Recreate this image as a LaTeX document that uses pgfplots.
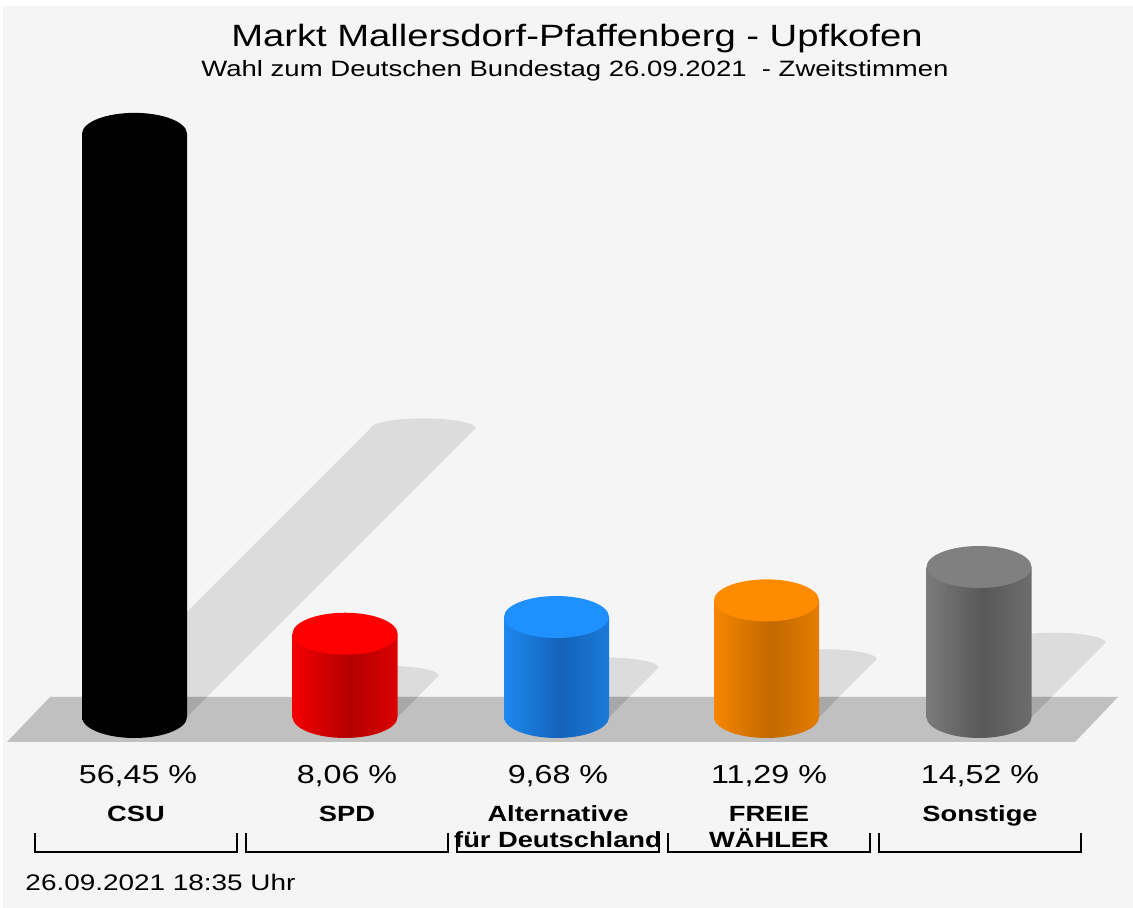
\documentclass[border=0pt]{standalone}
\usepackage{fontspec}
\setmainfont{Liberation Sans}
\usepackage{pgfplots}
\pgfplotsset{compat=1.18}

\definecolor{bgc}{HTML}{F5F5F5}
\definecolor{shadowc}{HTML}{DCDCDC}
\definecolor{floorc}{HTML}{C0C0C0}
\definecolor{floorshadowc}{HTML}{A8A8A8}
% party colours: T = top disc, L/D/R = body left, dark band, right
\definecolor{spdT}{HTML}{FF0000}\definecolor{spdL}{HTML}{F40000}\definecolor{spdD}{HTML}{B40000}\definecolor{spdR}{HTML}{DA0000}
\definecolor{afdT}{HTML}{1E90FF}\definecolor{afdL}{HTML}{1D88F0}\definecolor{afdD}{HTML}{1562B8}\definecolor{afdR}{HTML}{1A7ADA}
\definecolor{fwT}{HTML}{FF8C00}\definecolor{fwL}{HTML}{F68600}\definecolor{fwD}{HTML}{C26900}\definecolor{fwR}{HTML}{E47C00}
\definecolor{soT}{HTML}{808080}\definecolor{soL}{HTML}{7B7B7B}\definecolor{soD}{HTML}{585858}\definecolor{soR}{HTML}{6D6D6D}

% 25bp = left edge of the path, 75bp = right edge
\pgfdeclarehorizontalshading{csubody}{100bp}{color(0bp)=(black); color(100bp)=(black)}
\pgfdeclarehorizontalshading{spdbody}{100bp}{color(0bp)=(spdL); color(25bp)=(spdL); color(52bp)=(spdD); color(75bp)=(spdR); color(100bp)=(spdR)}
\pgfdeclarehorizontalshading{afdbody}{100bp}{color(0bp)=(afdL); color(25bp)=(afdL); color(52bp)=(afdD); color(75bp)=(afdR); color(100bp)=(afdR)}
\pgfdeclarehorizontalshading{fwbody}{100bp}{color(0bp)=(fwL); color(25bp)=(fwL); color(52bp)=(fwD); color(75bp)=(fwR); color(100bp)=(fwR)}
\pgfdeclarehorizontalshading{sobody}{100bp}{color(0bp)=(soL); color(25bp)=(soL); color(52bp)=(soD); color(75bp)=(soR); color(100bp)=(soR)}

\tikzset{lbl/.style={xscale=1.24, inner sep=0pt, anchor=base}}

% left x, right x, value, body shading, top colour
\newcommand{\cylinder}[5]{%
  \addplot[draw=none, shade, shading=#4] coordinates {(#2,#3)(#1,#3)(#1,0)}
      arc[start angle=180, end angle=360, x radius=26.25pt, y radius=10.5pt] -- cycle;
  \addplot[draw=none, fill=#5] coordinates {(#2,#3)}
      arc[start angle=0, end angle=360, x radius=26.25pt, y radius=10.5pt] -- cycle;
}
% shadow: base left, base right, top right end, top y
\newcommand{\shadow}[4]{%
  \addplot[fill=shadowc, draw=none] coordinates {(#1,0)(#2,0)(#3,#4)}
      arc[start angle=0, end angle=180, x radius=26.25pt, y radius=5pt] -- cycle;
}

\begin{document}
\begin{tikzpicture}
\begin{axis}[
    scale only axis, width=566.5pt, height=454pt,
    xmin=0, xmax=1133, ymin=-18.49, ymax=69.41,
    hide axis, xtick=\empty, ytick=\empty, clip=false,
]
% background
\addplot[fill=white, draw=none] coordinates {(0,-18.49)(1133,-18.49)(1133,69.41)(0,69.41)} -- cycle;
\addplot[fill=bgc, draw=none] coordinates {(3,-18.49)(1133,-18.49)(1133,68.83)(3,68.83)} -- cycle;

% shadows (sheared copies of the cylinders)
\shadow{82}{187}{475.6}{27.94}
\shadow{292.5}{397.5}{438.7}{3.99}
\shadow{504}{609}{658.5}{4.79}
\shadow{714}{819}{876.7}{5.59}
\shadow{926.5}{1031.5}{1105.7}{7.19}

% floor
\addplot[fill=floorc, draw=none] coordinates {(7,-2.42)(50,1.936)(1118,1.936)(1075,-2.42)} -- cycle;
% shadows on the floor
\addplot[fill=floorshadowc, draw=none] coordinates {(82,0)(187,0)(207,1.936)(102,1.936)} -- cycle;
\addplot[fill=floorshadowc, draw=none] coordinates {(292.5,0)(397.5,0)(417.5,1.936)(312.5,1.936)} -- cycle;
\addplot[fill=floorshadowc, draw=none] coordinates {(504,0)(609,0)(629,1.936)(524,1.936)} -- cycle;
\addplot[fill=floorshadowc, draw=none] coordinates {(714,0)(819,0)(839,1.936)(734,1.936)} -- cycle;
\addplot[fill=floorshadowc, draw=none] coordinates {(926.5,0)(1031.5,0)(1051.5,1.936)(946.5,1.936)} -- cycle;

% cylinders
\cylinder{82}{187}{56.45}{csubody}{black}
\cylinder{292.5}{397.5}{8.06}{spdbody}{spdT}
\cylinder{504}{609}{9.68}{afdbody}{afdT}
\cylinder{714}{819}{11.29}{fwbody}{fwT}
\cylinder{926.5}{1031.5}{14.52}{sobody}{soT}

% brackets
\addplot[black, line width=1pt] coordinates {(35,-11.23)(35,-13.07)(237,-13.07)(237,-11.23)};
\addplot[black, line width=1pt] coordinates {(246,-11.23)(246,-13.07)(448,-13.07)(448,-11.23)};
\addplot[black, line width=1pt] coordinates {(457,-11.23)(457,-13.07)(659,-13.07)(659,-11.23)};
\addplot[black, line width=1pt] coordinates {(668,-11.23)(668,-13.07)(870,-13.07)(870,-11.23)};
\addplot[black, line width=1pt] coordinates {(879,-11.23)(879,-13.07)(1081,-13.07)(1081,-11.23)};

% titles
\node[lbl, font=\fontsize{15.4}{18}\selectfont] at (axis cs:577,64.86) {Markt Mallersdorf-Pfaffenberg - Upfkofen};
\node[lbl, font=\fontsize{11.1}{13}\selectfont] at (axis cs:575,62.05) {Wahl zum Deutschen Bundestag 26.09.2021\ \ - Zweitstimmen};

% values
\node[lbl, font=\fontsize{13}{15}\selectfont] at (axis cs:138,-6.39) {56,45 \%};
\node[lbl, font=\fontsize{13}{15}\selectfont] at (axis cs:347,-6.39) {8,06 \%};
\node[lbl, font=\fontsize{13}{15}\selectfont] at (axis cs:558,-6.39) {9,68 \%};
\node[lbl, font=\fontsize{13}{15}\selectfont] at (axis cs:769,-6.39) {11,29 \%};
\node[lbl, font=\fontsize{13}{15}\selectfont] at (axis cs:980,-6.39) {14,52 \%};

% party names
\node[lbl, font=\bfseries\fontsize{11}{13}\selectfont] at (axis cs:136,-10.16) {CSU};
\node[lbl, font=\bfseries\fontsize{11}{13}\selectfont] at (axis cs:347,-10.16) {SPD};
\node[lbl, font=\bfseries\fontsize{11}{13}\selectfont] at (axis cs:558,-10.16) {Alternative};
\node[lbl, font=\bfseries\fontsize{11}{13}\selectfont] at (axis cs:558,-12.68) {für Deutschland};
\node[lbl, font=\bfseries\fontsize{11}{13}\selectfont] at (axis cs:769,-10.16) {FREIE};
\node[lbl, font=\bfseries\fontsize{11}{13}\selectfont] at (axis cs:769,-12.68) {WÄHLER};
\node[lbl, font=\bfseries\fontsize{11}{13}\selectfont] at (axis cs:980,-10.16) {Sonstige};

% timestamp
\node[lbl, anchor=base west, font=\fontsize{11.25}{13}\selectfont] at (axis cs:25,-16.75) {26.09.2021 18:35 Uhr};
\end{axis}
\end{tikzpicture}
\end{document}
